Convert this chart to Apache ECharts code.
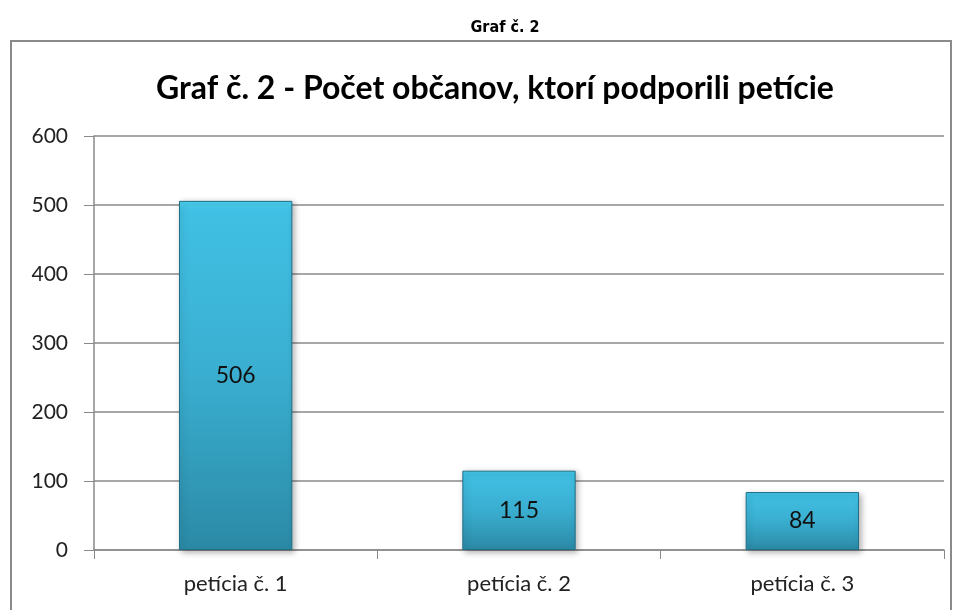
<!DOCTYPE html>
<html>
<head>
<meta charset="utf-8">
<script src="https://cdn.jsdelivr.net/npm/echarts@6/dist/echarts.min.js"></script>
<style>
html, body { margin: 0; padding: 0; background: #fff; }
#main { width: 958px; height: 610px; }
</style>
</head>
<body>
<div id="main"></div>
<script>
// data
var categories = ["petícia č. 1", "petícia č. 2", "petícia č. 3"];
var values = [506, 115, 84];
var yTicks = [0, 100, 200, 300, 400, 500, 600];

var chart = echarts.init(document.getElementById("main"));
var option = {
	backgroundColor: "#fff",
	animation: false,
	graphic: [{
		type: "rect",
		shape: { x: 11, y: 41, width: 940, height: 600 },
		style: { fill: "none", stroke: "#8a8a8a", lineWidth: 2 }
	}],
	title: [{
		text: "Graf č. 2",
		left: 500,
		textAlign: "center",
		top: 15,
		textStyle: { fontFamily: "'DejaVu Sans Condensed', 'Liberation Sans', sans-serif", fontWeight: "bold", fontSize: 16, color: "#000" }
	}, {
		text: "Graf č. 2 - Počet občanov, ktorí podporili petície",
		left: 490,
		textAlign: "center",
		top: 68,
		textStyle: { fontFamily: "Lato", fontWeight: "bold", fontSize: 32, color: "#000" }
	}],
	grid: { left: 94, right: 14, top: 136, bottom: 60 },
	xAxis: {
		type: "category",
		data: categories,
		axisLine: { lineStyle: { color: "#8a8a8a", width: 1.5 } },
		axisTick: { show: true, length: 9, lineStyle: { color: "#8a8a8a" } },
		axisLabel: { fontFamily: "Lato", fontSize: 22, color: "#222", margin: 23 }
	},
	yAxis: {
		type: "value",
		min: yTicks[0],
		max: yTicks[yTicks.length - 1],
		interval: 100,
		axisLine: { show: true, lineStyle: { color: "#8a8a8a", width: 1.5 } },
		axisTick: { show: true, length: 10, lineStyle: { color: "#8a8a8a" } },
		axisLabel: { fontFamily: "Lato", fontSize: 21, color: "#222", margin: 26 },
		splitLine: { lineStyle: { color: "#8a8a8a", width: 1.5 } }
	},
	series: [{
		type: "bar",
		data: values,
		barWidth: "40%",
		itemStyle: {
			color: new echarts.graphic.LinearGradient(0, 0, 0, 1, [
				{ offset: 0, color: "#4cd0f0" },
				{ offset: 0.03, color: "#40c0e4" },
				{ offset: 0.5, color: "#3aaed0" },
				{ offset: 1, color: "#2b8aa6" }
			]),
			borderColor: "#1f6f87",
			borderWidth: 1,
			shadowColor: "rgba(0,0,0,0.3)",
			shadowBlur: 6,
			shadowOffsetX: 2,
			shadowOffsetY: 2
		},
		label: {
			show: true,
			position: "inside",
			fontFamily: "Lato",
			fontSize: 23,
			color: "#111"
		}
	}]
};
chart.setOption(option);
</script>
</body>
</html>
